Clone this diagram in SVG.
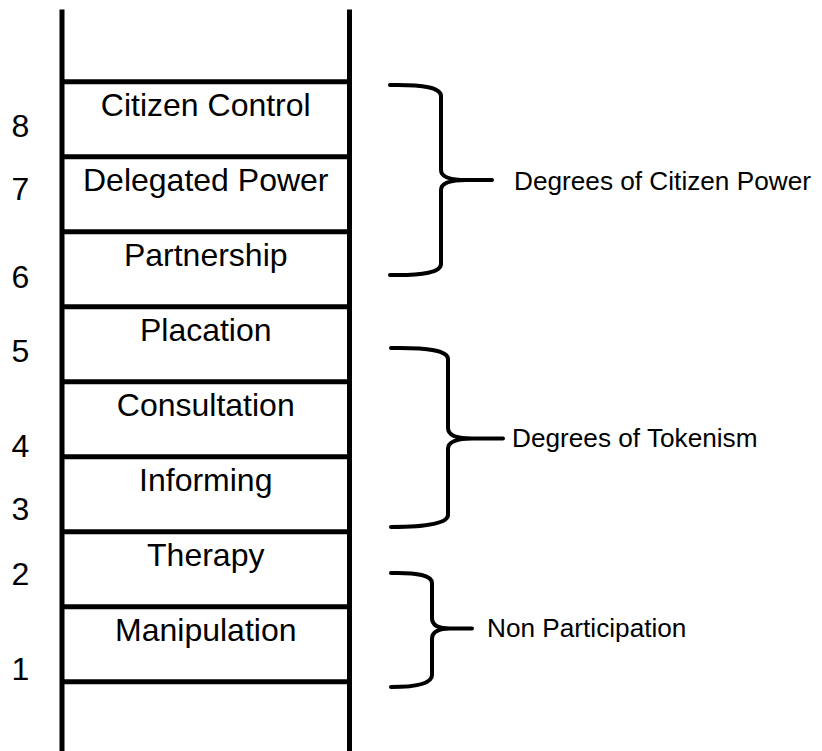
<svg xmlns="http://www.w3.org/2000/svg" width="822" height="751" viewBox="0 0 822 751">
  <style>
    .rail { stroke: #000; stroke-width: 5; fill: none; }
    .rung { stroke: #000; stroke-width: 5; }
    .brace { stroke: #000; stroke-width: 4; fill: none; stroke-linecap: round; stroke-linejoin: round; }
    .step { font-family: "Liberation Sans", Arial, sans-serif; font-size: 32px; fill: #000; text-anchor: middle; }
    .num { font-family: "Liberation Sans", Arial, sans-serif; font-size: 32px; fill: #000; text-anchor: middle; }
    .group-label { font-family: "Liberation Sans", Arial, sans-serif; font-size: 26.2px; fill: #000; }
  </style>
  <rect width="822" height="751" fill="#fff"/>

  <!-- ladder frame: two rails and nine rungs -->
  <g id="ladder">
    <line class="rail" x1="62" y1="9.5" x2="62" y2="751"/>
    <line class="rail" x1="349.5" y1="9.5" x2="349.5" y2="751"/>
    <line class="rung" x1="62" y1="81.7" x2="349.5" y2="81.7"/>
    <line class="rung" x1="62" y1="156.7" x2="349.5" y2="156.7"/>
    <line class="rung" x1="62" y1="231.7" x2="349.5" y2="231.7"/>
    <line class="rung" x1="62" y1="306.7" x2="349.5" y2="306.7"/>
    <line class="rung" x1="62" y1="381.7" x2="349.5" y2="381.7"/>
    <line class="rung" x1="62" y1="456.7" x2="349.5" y2="456.7"/>
    <line class="rung" x1="62" y1="531.7" x2="349.5" y2="531.7"/>
    <line class="rung" x1="62" y1="606.7" x2="349.5" y2="606.7"/>
    <line class="rung" x1="62" y1="681.7" x2="349.5" y2="681.7"/>
  </g>

  <!-- steps of the ladder -->
  <g id="step-8"><text class="step" x="205.75" y="116">Citizen Control</text><text class="num" x="20.5" y="137">8</text></g>
  <g id="step-7"><text class="step" x="205.75" y="191">Delegated Power</text><text class="num" x="20.5" y="200">7</text></g>
  <g id="step-6"><text class="step" x="205.75" y="266">Partnership</text><text class="num" x="20.5" y="288">6</text></g>
  <g id="step-5"><text class="step" x="205.75" y="341">Placation</text><text class="num" x="20.5" y="362">5</text></g>
  <g id="step-4"><text class="step" x="205.75" y="416">Consultation</text><text class="num" x="20.5" y="457">4</text></g>
  <g id="step-3"><text class="step" x="205.75" y="491">Informing</text><text class="num" x="20.5" y="520">3</text></g>
  <g id="step-2"><text class="step" x="205.75" y="566">Therapy</text><text class="num" x="20.5" y="585">2</text></g>
  <g id="step-1"><text class="step" x="205.75" y="641">Manipulation</text><text class="num" x="20.5" y="680">1</text></g>

  <!-- braces grouping the steps -->
  <g id="braces">
    <path class="brace" d="M390,85 Q441,84 441,96 L441,170 Q441,180 466,180 L492,180 M466,180 Q441,180 441,190 L441,264 Q441,276 390,275"/>
    <path class="brace" d="M391,348 Q448,347 448,359 L448,428 Q448,438.5 472,438.5 L503,438.5 M472,438.5 Q448,438.5 448,449 L448,515 Q448,527 391,527"/>
    <path class="brace" d="M391,573 Q432,572 432,583 L432,618 Q432,628.5 450,628.5 L472,628.5 M450,628.5 Q432,628.5 432,639 L432,675 Q432,687 391,687"/>
  </g>

  <g id="group-citizen-power"><text class="group-label" x="514" y="190">Degrees of Citizen Power</text></g>
  <g id="group-tokenism"><text class="group-label" x="512" y="447">Degrees of Tokenism</text></g>
  <g id="group-non-participation"><text class="group-label" x="487" y="637">Non Participation</text></g>
</svg>
